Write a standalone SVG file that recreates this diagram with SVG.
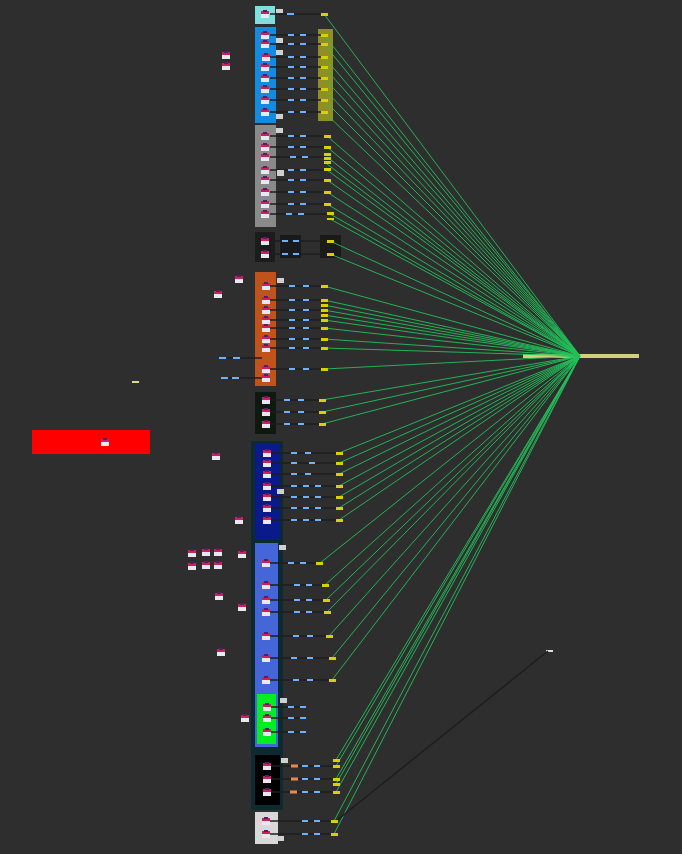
<svg xmlns="http://www.w3.org/2000/svg" width="682" height="854" viewBox="0 0 682 854">
<style>
.dash{stroke:#6fb0ff;stroke-width:2}
.wire{stroke:#1e1e1e;stroke-width:1.5;fill:none}
.g{stroke:#22c25a;stroke-width:0.9;fill:none}
.port{fill:#d8d000}
.lbl{fill:#d0d0d0}
</style>
<defs>
<g id="ic"><rect x="-4" y="-3" width="8" height="7" fill="#e8e8f0"/><rect x="-4" y="-3" width="8" height="3" fill="#d0205a"/><rect x="-2" y="-4" width="4" height="2" fill="#502070"/></g>
</defs>
<rect width="682" height="854" fill="#2e2e2e"/>
<g id="containers">
<rect x="255" y="6" width="20" height="18" fill="#7fdede"/>
<rect x="255" y="27" width="21" height="96" fill="#128be0"/>
<rect x="318" y="29" width="15" height="92" fill="#8f8f25"/>
<rect x="255" y="125" width="21" height="102" fill="#8a8a8a"/>
<rect x="255" y="232" width="20" height="30" fill="#1c1c1c"/>
<rect x="280" y="235" width="21" height="23" fill="#1a1a1a"/>
<rect x="320" y="235" width="21" height="23" fill="#1a1a1a"/>
<rect x="255" y="272" width="21" height="114" fill="#c0531c"/>
<rect x="255" y="392" width="21" height="42" fill="#0e1a10"/>
<rect x="251" y="441" width="32" height="369" fill="#0d2a30"/>
<rect x="255" y="443" width="25" height="97" fill="#0b1a8a"/>
<rect x="255" y="543" width="23" height="204" fill="#4466d8"/>
<rect x="257" y="694" width="19" height="50" fill="#00ee22"/>
<rect x="255" y="755" width="25" height="50" fill="#000"/>
<rect x="255" y="812" width="23" height="32" fill="#d8d8d8"/>
<rect x="32" y="430" width="118" height="24" fill="#ff0000"/>
<rect x="523" y="354" width="116" height="4" fill="#d4cf7a"/>
<rect x="132" y="381" width="7" height="2" fill="#e0d890"/>
<rect x="546" y="650" width="7" height="2" fill="#dddddd"/>
</g>
<g id="connectors">
<path class="g" d="M324 14L580 356M324 35L580 356M324 44L580 356M324 57L580 356M324 67L580 356M324 78L580 356M324 89L580 356M324 100L580 356M324 112L580 356M327 136L580 356M327 147L580 356M327 157L580 356M327 164L580 356M327 170L580 356M327 180L580 356M327 192L580 356M327 204L580 356M330 214L580 356M330 219L580 356M330 241L580 356M330 254L580 356M324 286L580 356M324 300L580 356M324 305L580 356M324 310L580 356M324 315L580 356M324 320L580 356M324 328L580 356M324 339L580 356M324 348L580 356M324 369L580 356M322 400L580 356M322 412L580 356M322 424L580 356M339 453L580 356M339 463L580 356M339 474L580 356M339 486L580 356M339 497L580 356M339 508L580 356M339 520L580 356M320 563L580 356M325 585L580 356M326 600L580 356M327 612L580 356M329 636L580 356M332 658L580 356M332 680L580 356M336 760L580 356M336 766L580 356M336 779L580 356M336 784L580 356M336 792L580 356M334 821L580 356M334 834L580 356"/>
<path class="wire" d="M270 14H324M270 35H324M270 44H324M270 57H324M270 67H324M270 78H324M270 89H324M270 100H324M270 112H324M270 136H327M270 147H327M270 157H327M270 170H327M270 180H327M270 192H327M270 204H327M270 214H330M270 241H330M270 254H330M270 286H324M270 300H324M270 310H324M270 320H324M270 328H324M270 339H324M270 348H324M270 369H324M270 400H322M270 412H322M270 424H322M270 453H339M270 463H339M270 474H339M270 486H339M270 497H339M270 508H339M270 520H339M270 563H320M270 585H325M270 600H326M270 612H327M270 636H329M270 658H332M270 680H332M270 707H306M270 718H306M270 732H306M270 766H336M270 779H336M270 792H336M270 821H334M270 834H334M227 358H262M227 378H262M336 821L548 651"/>
<path class="dash" d="M287 14h7M288 35h6M300 35h6M288 44h6M300 44h6M288 57h6M300 57h6M288 67h6M300 67h6M288 78h6M300 78h6M288 89h6M300 89h6M288 100h6M300 100h6M288 112h6M300 112h6M288 136h6M300 136h6M288 147h6M300 147h6M290 157h6M302 157h6M288 170h6M300 170h6M288 180h6M300 180h6M288 192h6M300 192h6M288 204h6M300 204h6M286 214h6M298 214h6M282 241h6M293 241h6M282 254h6M293 254h6M289 286h6M303 286h6M289 300h6M303 300h6M289 310h6M303 310h6M289 320h6M303 320h6M289 328h6M303 328h6M289 339h6M303 339h6M289 348h6M303 348h6M289 369h6M303 369h6M284 400h6M298 400h6M284 412h6M298 412h6M284 424h6M298 424h6M291 453h6M305 453h6M291 463h6M309 463h6M291 474h6M305 474h6M291 486h6M303 486h6M315 486h6M291 497h6M303 497h6M315 497h6M291 508h6M303 508h6M315 508h6M291 520h6M303 520h6M315 520h6M288 563h6M300 563h6M294 585h6M306 585h6M294 600h6M306 600h6M294 612h6M306 612h6M293 636h6M307 636h6M291 658h6M307 658h6M293 680h6M307 680h6M288 707h6M300 707h6M288 718h6M300 718h6M288 732h6M300 732h6M302 766h6M314 766h6M302 779h6M314 779h6M302 792h6M314 792h6M302 821h6M314 821h6M302 834h6M314 834h6M219 358h7M233 358h7M221 378h7M232 378h7"/>
<path stroke="#e88a50" stroke-width="3" d="M291 766h7M291 779h7M290 792h7"/>
</g>
<g id="ports">
<path class="port" d="M321 13h7v3h-7zM321 34h7v3h-7zM321 43h7v3h-7zM321 56h7v3h-7zM321 66h7v3h-7zM321 77h7v3h-7zM321 88h7v3h-7zM321 99h7v3h-7zM321 111h7v3h-7zM324 135h7v3h-7zM324 146h7v3h-7zM324 153h7v3h-7zM324 157h7v3h-7zM324 161h7v3h-7zM324 168h7v3h-7zM324 179h7v3h-7zM324 191h7v3h-7zM324 203h7v3h-7zM327 212h7v3h-7zM327 218h7v2h-7zM327 240h7v3h-7zM327 253h7v3h-7zM321 285h7v3h-7zM321 299h7v3h-7zM321 304h7v3h-7zM321 309h7v3h-7zM321 314h7v3h-7zM321 319h7v3h-7zM321 327h7v3h-7zM321 338h7v3h-7zM321 347h7v3h-7zM321 368h7v3h-7zM319 399h7v3h-7zM319 411h7v3h-7zM319 423h7v3h-7zM336 452h7v3h-7zM336 462h7v3h-7zM336 473h7v3h-7zM336 485h7v3h-7zM336 496h7v3h-7zM336 507h7v3h-7zM336 519h7v3h-7zM316 562h7v3h-7zM322 584h7v3h-7zM323 599h7v3h-7zM324 611h7v3h-7zM326 635h7v3h-7zM329 657h7v3h-7zM329 679h7v3h-7zM333 759h7v3h-7zM333 765h7v3h-7zM333 778h7v3h-7zM333 783h7v3h-7zM333 791h7v3h-7zM331 820h7v3h-7zM331 833h7v3h-7z"/>
</g>
<g id="labels" class="lbl">
<rect x="276" y="9" width="7" height="4"/><rect x="276" y="38" width="7" height="5"/><rect x="276" y="50" width="7" height="5"/><rect x="276" y="114" width="7" height="5"/><rect x="276" y="128" width="7" height="5"/><rect x="277" y="170" width="7" height="6"/><rect x="277" y="278" width="7" height="5"/><rect x="277" y="489" width="7" height="5"/><rect x="279" y="545" width="7" height="5"/><rect x="280" y="698" width="7" height="5"/><rect x="281" y="758" width="7" height="5"/><rect x="277" y="836" width="7" height="5"/>
</g>
<g id="icons">
<use href="#ic" x="265" y="14"/>
<use href="#ic" x="265" y="35"/><use href="#ic" x="265" y="44"/><use href="#ic" x="266" y="57"/><use href="#ic" x="265" y="67"/><use href="#ic" x="265" y="78"/><use href="#ic" x="265" y="89"/><use href="#ic" x="265" y="100"/><use href="#ic" x="265" y="112"/>
<use href="#ic" x="265" y="136"/><use href="#ic" x="265" y="147"/><use href="#ic" x="265" y="157"/><use href="#ic" x="265" y="170"/><use href="#ic" x="265" y="180"/><use href="#ic" x="265" y="192"/><use href="#ic" x="265" y="204"/><use href="#ic" x="265" y="214"/>
<use href="#ic" x="265" y="241"/><use href="#ic" x="265" y="254"/>
<use href="#ic" x="266" y="286"/><use href="#ic" x="266" y="300"/><use href="#ic" x="266" y="310"/><use href="#ic" x="266" y="320"/><use href="#ic" x="266" y="328"/><use href="#ic" x="266" y="339"/><use href="#ic" x="266" y="348"/><use href="#ic" x="266" y="369"/><use href="#ic" x="266" y="378"/>
<use href="#ic" x="266" y="400"/><use href="#ic" x="266" y="412"/><use href="#ic" x="266" y="424"/>
<use href="#ic" x="267" y="453"/><use href="#ic" x="267" y="463"/><use href="#ic" x="267" y="474"/><use href="#ic" x="267" y="486"/><use href="#ic" x="267" y="497"/><use href="#ic" x="267" y="508"/><use href="#ic" x="267" y="520"/>
<use href="#ic" x="266" y="563"/><use href="#ic" x="266" y="585"/><use href="#ic" x="266" y="600"/><use href="#ic" x="266" y="612"/><use href="#ic" x="266" y="636"/><use href="#ic" x="266" y="658"/><use href="#ic" x="266" y="680"/>
<use href="#ic" x="267" y="707"/><use href="#ic" x="267" y="718"/><use href="#ic" x="267" y="732"/>
<use href="#ic" x="267" y="766"/><use href="#ic" x="267" y="779"/><use href="#ic" x="267" y="792"/>
<use href="#ic" x="266" y="821"/><use href="#ic" x="266" y="834"/>
<use href="#ic" x="105" y="442"/>
<use href="#ic" x="226" y="55"/><use href="#ic" x="226" y="66"/><use href="#ic" x="239" y="279"/><use href="#ic" x="218" y="294"/><use href="#ic" x="216" y="456"/><use href="#ic" x="239" y="520"/><use href="#ic" x="192" y="553"/><use href="#ic" x="206" y="552"/><use href="#ic" x="218" y="552"/><use href="#ic" x="192" y="566"/><use href="#ic" x="206" y="565"/><use href="#ic" x="218" y="565"/><use href="#ic" x="242" y="554"/><use href="#ic" x="219" y="596"/><use href="#ic" x="242" y="607"/><use href="#ic" x="221" y="652"/><use href="#ic" x="245" y="718"/>
</g>
</svg>
